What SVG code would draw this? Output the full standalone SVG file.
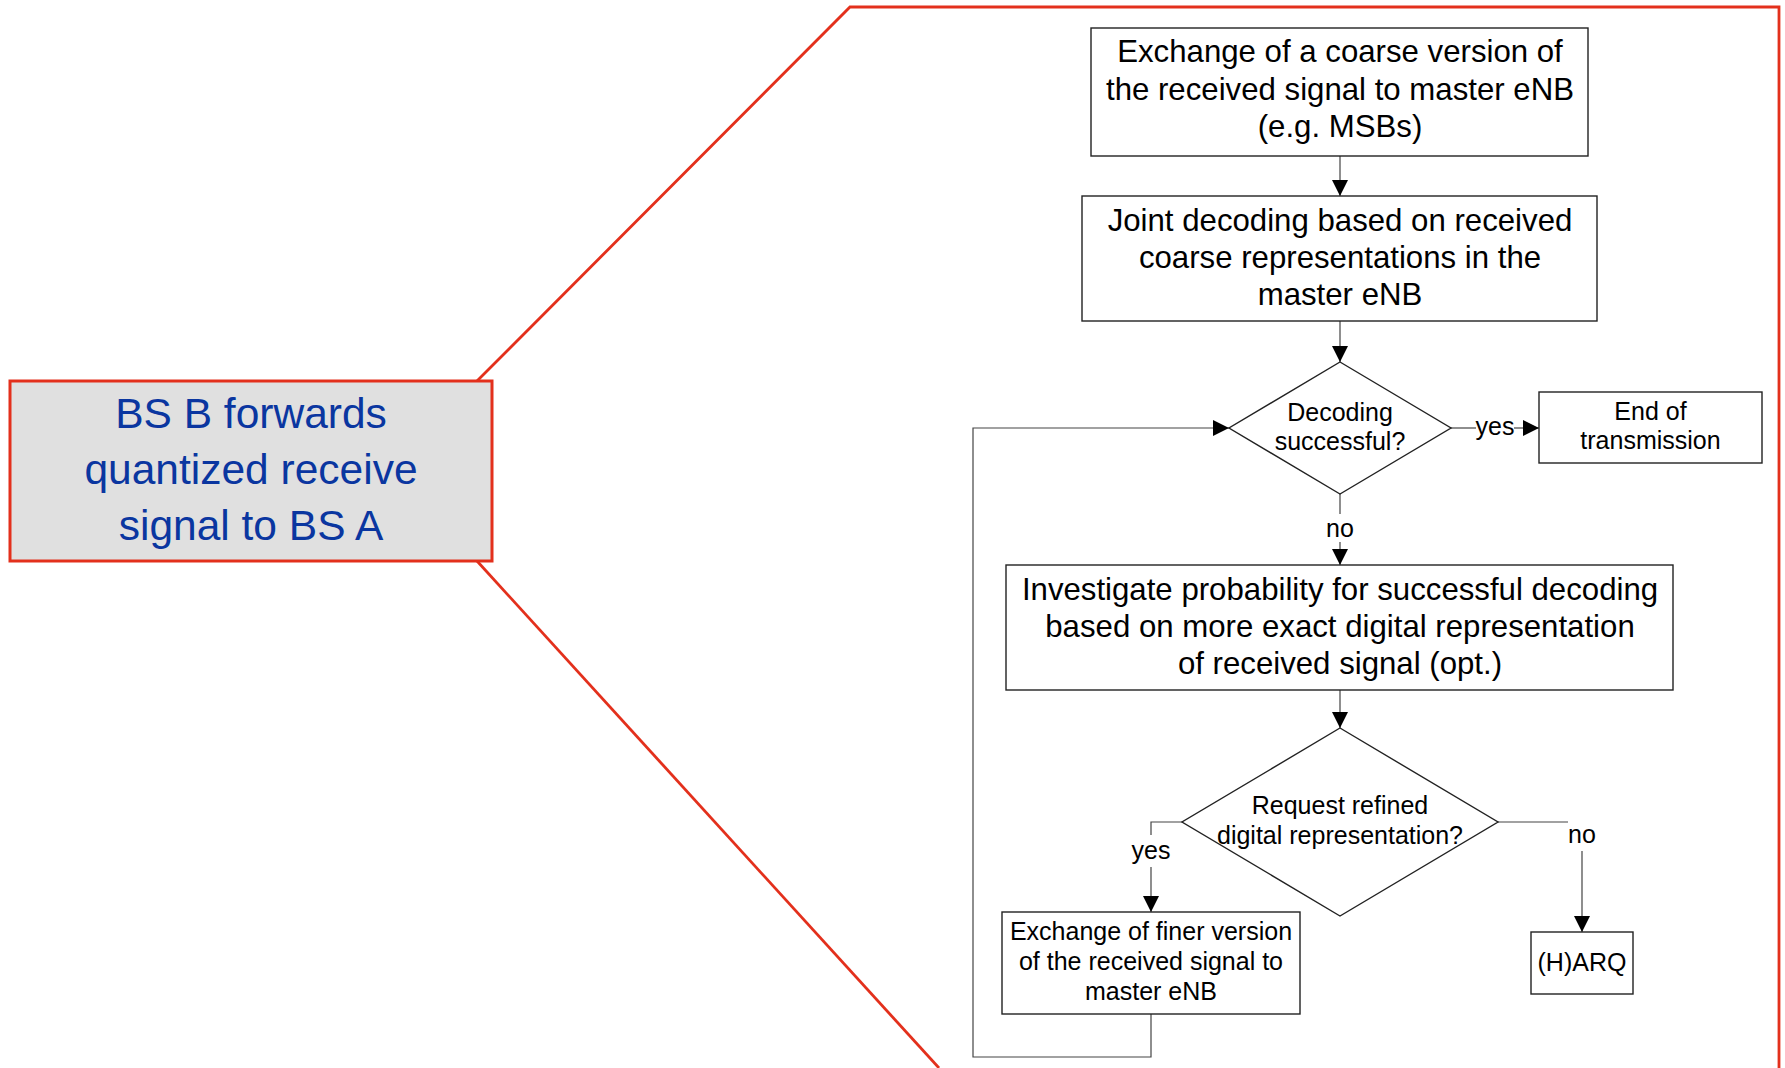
<svg xmlns="http://www.w3.org/2000/svg" width="1785" height="1068" viewBox="0 0 1785 1068">
  <defs>
    <style>
      .zoom { fill: none; stroke: #e3301c; stroke-width: 2.8; }
      .callout { fill: #e0e0e0; stroke: #e3301c; stroke-width: 3; }
      .callout-text { font-family: "Liberation Sans", Arial, sans-serif; font-size: 42.5px; fill: #0a36a0; text-anchor: middle; }
      .box { fill: #ffffff; stroke: #222222; stroke-width: 1.4; }
      .big { font-family: "Liberation Sans", Arial, sans-serif; font-size: 31.2px; fill: #000000; text-anchor: middle; }
      .small { font-family: "Liberation Sans", Arial, sans-serif; font-size: 25px; fill: #000000; text-anchor: middle; }
      .wire { fill: none; stroke: #444444; stroke-width: 1.2; }
    </style>
    <marker id="arrow" viewBox="0 0 16 16" refX="16" refY="8" markerWidth="16" markerHeight="16" markerUnits="userSpaceOnUse" orient="auto">
      <path d="M0,0 L16,8 L0,16 Z" fill="#000000"/>
    </marker>
  </defs>

  <rect width="1785" height="1068" fill="#ffffff"/>

  <!-- zoom outline linking the callout to the detailed flow -->
  <g id="zoom-outline">
    <polyline class="zoom" points="477,381 850,7 1779,7 1779,1068"/>
    <line class="zoom" x1="477" y1="561" x2="939" y2="1068"/>
  </g>

  <g id="callout">
    <rect class="callout" x="10" y="381" width="482" height="180"/>
    <text class="callout-text" x="251" y="428">BS B forwards</text>
    <text class="callout-text" x="251" y="484">quantized receive</text>
    <text class="callout-text" x="251" y="540">signal to BS A</text>
  </g>

  <!-- connectors -->
  <g id="connectors">
    <line class="wire" x1="1340" y1="156" x2="1340" y2="196" marker-end="url(#arrow)"/>
    <line class="wire" x1="1340" y1="321" x2="1340" y2="362" marker-end="url(#arrow)"/>
    <!-- yes: decoding successful -> end -->
    <line class="wire" x1="1451" y1="428" x2="1476" y2="428"/>
    <text class="small" x="1495" y="435">yes</text>
    <line class="wire" x1="1514" y1="428" x2="1539" y2="428" marker-end="url(#arrow)"/>
    <!-- no: decoding successful -> investigate -->
    <line class="wire" x1="1340" y1="494" x2="1340" y2="514"/>
    <text class="small" x="1340" y="537">no</text>
    <line class="wire" x1="1340" y1="542" x2="1340" y2="565" marker-end="url(#arrow)"/>
    <line class="wire" x1="1340" y1="690" x2="1340" y2="728" marker-end="url(#arrow)"/>
    <!-- yes: request refined -> exchange finer -->
    <polyline class="wire" points="1182,822 1151,822 1151,835"/>
    <text class="small" x="1151" y="859">yes</text>
    <line class="wire" x1="1151" y1="867" x2="1151" y2="912" marker-end="url(#arrow)"/>
    <!-- no: request refined -> (H)ARQ -->
    <line class="wire" x1="1498" y1="822" x2="1568" y2="822"/>
    <text class="small" x="1582" y="843">no</text>
    <line class="wire" x1="1582" y1="851" x2="1582" y2="932" marker-end="url(#arrow)"/>
    <!-- loop back to the decoding check -->
    <polyline class="wire" points="1151,1014 1151,1057 973,1057 973,428 1229,428" marker-end="url(#arrow)"/>
  </g>

  <g id="exchange-coarse">
    <rect class="box" x="1091" y="28" width="497" height="128"/>
    <text class="big" x="1340" y="62">Exchange of a coarse version of</text>
    <text class="big" x="1340" y="99.5">the received signal to master eNB</text>
    <text class="big" x="1340" y="137">(e.g. MSBs)</text>
  </g>

  <g id="joint-decoding">
    <rect class="box" x="1082" y="196" width="515" height="125"/>
    <text class="big" x="1340" y="231">Joint decoding based on received</text>
    <text class="big" x="1340" y="268">coarse representations in the</text>
    <text class="big" x="1340" y="305">master eNB</text>
  </g>

  <g id="decoding-successful">
    <polygon class="box" points="1340,362 1451,428 1340,494 1229,428"/>
    <text class="small" x="1340" y="421">Decoding</text>
    <text class="small" x="1340" y="450">successful?</text>
  </g>

  <g id="end-of-transmission">
    <rect class="box" x="1539" y="392" width="223" height="71"/>
    <text class="small" x="1650.5" y="420">End of</text>
    <text class="small" x="1650.5" y="449">transmission</text>
  </g>

  <g id="investigate">
    <rect class="box" x="1006" y="565" width="667" height="125"/>
    <text class="big" x="1340" y="600">Investigate probability for successful decoding</text>
    <text class="big" x="1340" y="637">based on more exact digital representation</text>
    <text class="big" x="1340" y="674">of received signal (opt.)</text>
  </g>

  <g id="request-refined">
    <polygon class="box" points="1340,728 1498,822 1340,916 1182,822"/>
    <text class="small" x="1340" y="814">Request refined</text>
    <text class="small" x="1340" y="844">digital representation?</text>
  </g>

  <g id="exchange-finer">
    <rect class="box" x="1002" y="912" width="298" height="102"/>
    <text class="small" x="1151" y="940">Exchange of finer version</text>
    <text class="small" x="1151" y="970">of the received signal to</text>
    <text class="small" x="1151" y="1000">master eNB</text>
  </g>

  <g id="harq">
    <rect class="box" x="1531" y="932" width="102" height="62"/>
    <text class="small" x="1582" y="971">(H)ARQ</text>
  </g>
</svg>
